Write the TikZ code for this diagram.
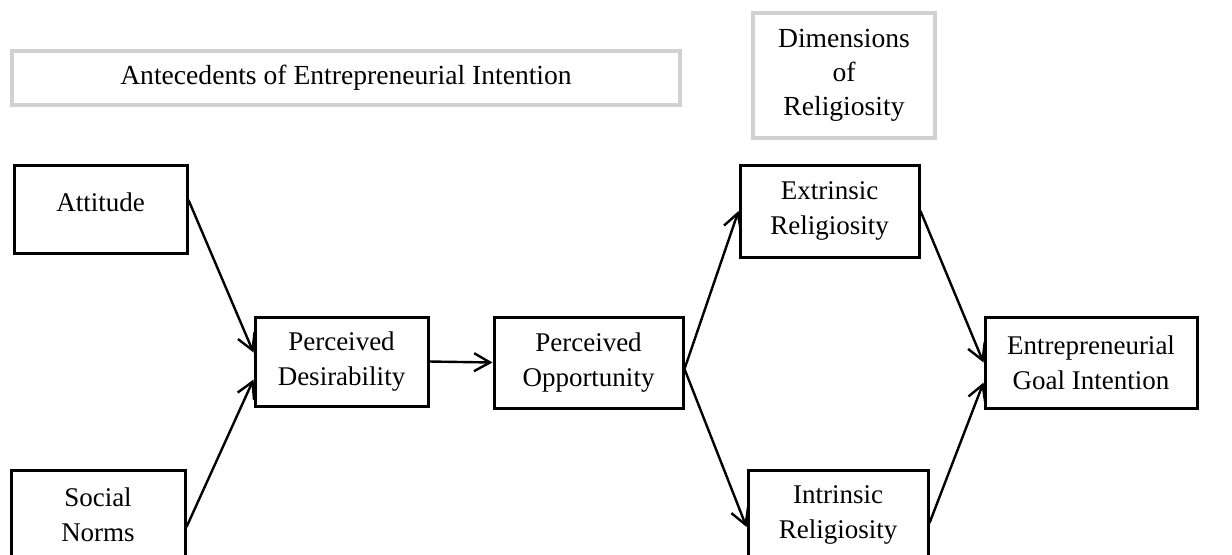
\documentclass[tikz,border=0pt]{standalone}
\usepackage{fontspec}
\setmainfont{Liberation Serif}
\usetikzlibrary{arrows.meta}

\begin{document}
\begin{tikzpicture}[x=0.5pt, y=-0.5pt,
        box/.style={draw, line width=1.5pt, inner sep=0pt, align=center, font=\fontsize{13.5}{17.5}\selectfont},
        grouplabel/.style={draw=black!18, line width=1.6pt, inner sep=0pt, align=center, font=\fontsize{13.8}{17}\selectfont},
        link/.style={line width=1.2pt, -{Straight Barb[length=8pt,width=9pt]}}] %model
            \clip (0,0) rectangle (1232,554);
            \fill[white] (0,0) rectangle (1232,554);

            \node[grouplabel, minimum width=334pt, minimum height=27pt] (ante) at (346,78) {Antecedents of Entrepreneurial Intention};
            \node[grouplabel, minimum width=91pt, minimum height=62.5pt] (dim) at (844,75.5) {Dimensions\\of\\Religiosity};

            \node[box, minimum width=86.5pt, minimum height=44pt] (att) at (100.5,209) {\raisebox{3.5pt}[\height][\depth]{Attitude}};
            \node[box, minimum width=87pt, minimum height=45pt] (sn) at (98,515) {Social\\Norms};
            \node[box, minimum width=86.5pt, minimum height=44.5pt] (pd) at (341.5,361.5) {Perceived\\Desirability};
            \node[box, minimum width=94.5pt, minimum height=45.5pt] (po) at (588.5,362.5) {Perceived\\Opportunity};
            \node[box, minimum width=89.5pt, minimum height=46pt] (ext) at (829.5,211) {Extrinsic\\Religiosity};
            \node[box, minimum width=90pt, minimum height=45pt] (int) at (838,515) {Intrinsic\\Religiosity};
            \node[box, minimum width=106pt, minimum height=45.5pt] (egi) at (1091,362.5) {Entrepreneurial\\Goal Intention};

            \draw[link] ([yshift=4.5pt]att.east) -- ([yshift=4.5pt]pd.west);
            \draw[link] ([yshift=-6pt]sn.east) -- ([yshift=-9pt]pd.west);
            \draw[link] (pd.east) -- (po.west);
            \draw[link] ([yshift=-3.25pt]po.east) -- (ext.west);
            \draw[link] ([yshift=-3.25pt]po.east) -- ([yshift=-6pt]int.west);
            \draw[link] (ext.east) -- (egi.west);
            \draw[link] ([yshift=-4pt]int.east) -- ([yshift=-10pt]egi.west);
        \end{tikzpicture}
\end{document}
